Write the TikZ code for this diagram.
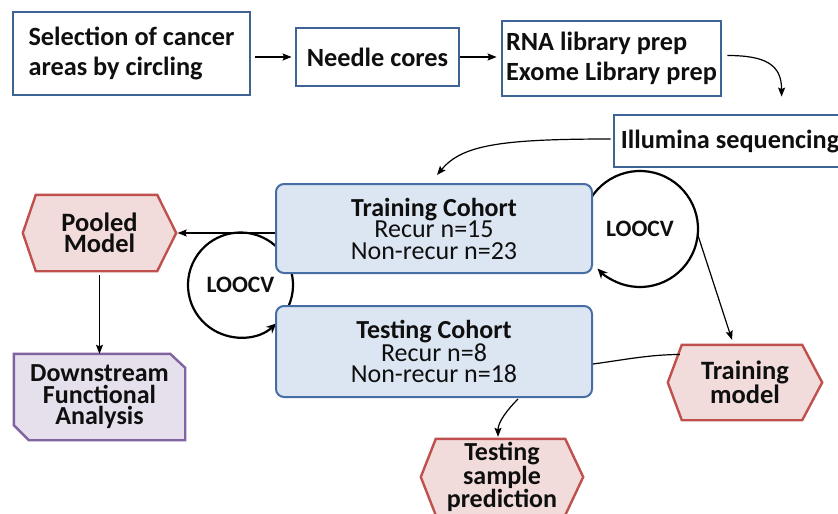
\documentclass[tikz,border=0pt]{standalone}
\usepackage{fontspec}
\setmainfont{Carlito}
\usetikzlibrary{arrows.meta,backgrounds,calc}
\definecolor{bboxc}{RGB}{62,100,150}
\definecolor{cboxc}{RGB}{70,110,165}
\definecolor{bfill}{RGB}{220,230,242}
\definecolor{rline}{RGB}{192,80,77}
\definecolor{rfill}{RGB}{242,220,219}
\definecolor{pline}{RGB}{128,100,162}
\definecolor{pfill}{RGB}{229,224,236}
\definecolor{txt}{RGB}{15,15,15}
\begin{document}
\begin{tikzpicture}[x=1pt,y=-1pt,
  topbox/.style={draw=bboxc, line width=2.8pt, fill=white, align=left, inner sep=0pt,
    font=\fontsize{26.3}{30}\selectfont\bfseries, text=txt},
  cohort/.style={draw=cboxc, line width=2pt, fill=bfill, rounded corners=8pt,
    minimum width=316pt, align=center, inner sep=0pt,
    font=\fontsize{26}{21.5}\selectfont, text=txt},
  hexnode/.style={minimum width=153pt, minimum height=76pt, inner sep=0pt, align=center,
    font=\fontsize{26.5}{21.5}\selectfont\bfseries, text=txt},
  hexshape/.style={draw=rline, fill=rfill, line width=2.4pt, line join=miter},
  snipshape/.style={draw=pline, fill=pfill, line width=2.4pt, line join=miter},
  loopnode/.style={circle, inner sep=0pt, font=\fontsize{23.5}{23.5}\selectfont\bfseries, text=txt},
  loopline/.style={line width=2.2pt, -{Stealth[length=10pt,width=9pt]}},
  conn/.style={line width=1.2pt, -{Stealth[length=9pt,width=7pt,inset=1.5pt]}},
  plainconn/.style={line width=1.2pt},
]
\useasboundingbox (0,0) rectangle (838,514);

% top row
\node[topbox, minimum width=237pt, minimum height=83pt] (sel) at (131.5,53.5) {Selection of cancer\\areas by circling};
\node[topbox, minimum width=163pt, minimum height=58pt] (needle) at (377.5,57) {Needle cores};
\node[topbox, minimum width=219pt, minimum height=75pt] (rna) at (611.5,58.5) {RNA library prep\\Exome Library prep};
\node[topbox, minimum width=232pt, minimum height=52pt] (illum) at (730,141) {Illumina sequencing};

% LOOCV loops (drawn before cohort boxes so the boxes cover them)
\node[loopnode, minimum size=105pt] (loopL) at (240.5,285) {LOOCV};
\node[loopnode, minimum size=116pt] (loopR) at (640,229) {LOOCV};
\draw[loopline] (loopL.center) ++(30:52.5) arc[start angle=30, end angle=-313, radius=52.5];
\draw[loopline] (loopR.center) ++(200:58) arc[start angle=200, end angle=497, radius=58];

% cohorts
\node[cohort, minimum height=89pt] (train) at (434,228.5) {\textbf{Training Cohort}\\Recur n=15\\Non-recur n=23};
\node[cohort, minimum height=91pt] (test) at (434,351.5) {\textbf{Testing Cohort}\\Recur n=8\\Non-recur n=18};

% hexagon nodes
\node[hexnode] (pooled) at (99.5,233) {Pooled\\Model};
\node[hexnode, minimum width=154pt, minimum height=75pt] (tmodel) at (745,382.5) {Training\\model};
\node[hexnode, minimum width=162pt, font=\fontsize{26}{19.5}\selectfont\bfseries] (tpred) at (502,477) {Testing\\sample\\prediction};
\node[hexnode, minimum width=171pt, minimum height=86pt, font=\fontsize{26}{21.5}\selectfont\bfseries] (down) at (99.5,397) {Downstream\\Functional\\Analysis};

\begin{scope}[on background layer]
\fill[white] (0,0) rectangle (838,514);
\draw[hexshape] (pooled.west) -- ($(pooled.north west)+(13,0)$) -- ($(pooled.north east)+(-19,0)$) -- (pooled.east)
  -- ($(pooled.south east)+(-19,0)$) -- ($(pooled.south west)+(13,0)$) -- cycle;
\draw[hexshape] (tmodel.west) -- ($(tmodel.north west)+(14,0)$) -- ($(tmodel.north east)+(-20,0)$) -- (tmodel.east)
  -- ($(tmodel.south east)+(-20,0)$) -- ($(tmodel.south west)+(14,0)$) -- cycle;
\draw[hexshape] (tpred.west) -- ($(tpred.north west)+(15,0)$) -- ($(tpred.north east)+(-18,0)$) -- (tpred.east)
  -- ($(tpred.south east)+(-18,0)$) -- ($(tpred.south west)+(15,0)$) -- cycle;
\draw[snipshape] (down.north west) -- ($(down.north east)+(-15,0)$) -- ($(down.north east)+(0,14)$) -- (down.south east)
  -- ($(down.south west)+(15,0)$) -- ($(down.south west)+(0,-15)$) -- cycle;
\end{scope}

% connectors
\draw[conn, shorten <=4pt, shorten >=3pt] (sel.east |- needle.west) -- (needle.west);
\draw[conn, shorten >=4pt] (needle.east) -- (needle.east -| rna.west);
\draw[conn] ($(rna.east)+(5,-3)$) .. controls +(38,0) and +(0,-32) .. ($(illum.north west)+(169,-17)$);
\draw[conn] ($(illum.west)+(-2,-2)$) .. controls +(-110,0) and +(25,-30) .. ($(train.north)+(3,-8)$);
\draw[conn, shorten >=1.5pt] (train.west |- pooled.east) -- (pooled.east);
\draw[conn] ($(pooled.south)+(0,4)$) -- (down.north);
\draw[conn] (loopR.-6) -- ($(tmodel.north)+(-13,-5)$);
\draw[plainconn] ($(tmodel.west)+(12,-28)$) .. controls +(-30,0) and +(30,-4) .. ($(test.east)+(0,12.5)$);
\draw[conn] ($(test.south)+(84,1)$) .. controls +(-10,10) and +(0,-15) .. ($(tpred.north)+(-4,-2)$);
\end{tikzpicture}
\end{document}
